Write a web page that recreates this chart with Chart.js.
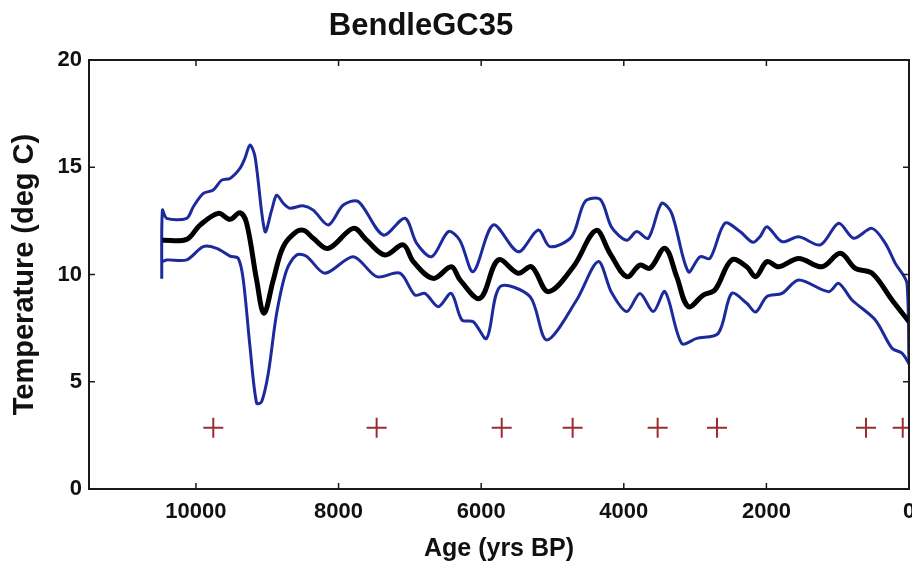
<!DOCTYPE html>
<html>
<head>
<meta charset="utf-8">
<script src="https://cdn.jsdelivr.net/npm/chart.js@4.4.1/dist/chart.umd.min.js"></script>
<style>
  html, body { margin: 0; padding: 0; background: #fff; }
</style>
</head>
<body>
<canvas id="chart" width="912" height="566"></canvas>
<script>
// Mean temperature curve (black)
const meanAge = [10470, 10130, 9944, 9687, 9523, 9383, 9289, 9149, 9046, 8916, 8775, 8588, 8480, 8355, 8144, 7793, 7606, 7349, 7093, 6952, 6672, 6420, 6297, 6017, 5760, 5480, 5292, 5059, 4708, 4390, 4194, 3959, 3773, 3633, 3422, 3258, 3095, 2885, 2721, 2487, 2276, 2150, 1992, 1828, 1547, 1220, 963, 753, 519, 238, 0];
const meanTemp = [11.6, 11.64, 12.3, 12.85, 12.57, 12.88, 12.39, 9.74, 8.19, 9.74, 11.3, 12.0, 12.05, 11.69, 11.22, 12.15, 11.6, 10.91, 11.38, 10.6, 9.82, 10.36, 9.75, 8.89, 10.68, 10.06, 10.36, 9.2, 10.36, 12.05, 10.99, 9.9, 10.44, 10.29, 11.22, 9.9, 8.5, 9.04, 9.28, 10.68, 10.36, 9.9, 10.6, 10.36, 10.75, 10.36, 10.99, 10.29, 10.06, 8.81, 7.8];

// Upper bound (blue)
const upperAge = [10480, 10470, 10411, 10130, 10037, 9897, 9757, 9640, 9523, 9383, 9313, 9242, 9172, 9032, 8938, 8868, 8775, 8682, 8500, 8355, 8144, 7934, 7724, 7373, 7069, 6904, 6694, 6460, 6300, 6111, 5830, 5480, 5199, 5035, 4731, 4544, 4330, 4170, 3959, 3819, 3656, 3469, 3328, 3095, 2931, 2791, 2581, 2370, 2190, 2090, 1992, 1781, 1547, 1243, 986, 776, 519, 332, 192, 28, 0];
const upperTemp = [9.8, 13.0, 12.62, 12.62, 13.16, 13.78, 13.94, 14.4, 14.48, 14.95, 15.42, 16.04, 15.5, 12.0, 13.0, 13.7, 13.32, 13.09, 13.2, 13.0, 12.31, 13.24, 13.4, 11.84, 12.62, 11.45, 10.83, 12.0, 11.6, 10.13, 12.31, 11.06, 12.07, 11.3, 11.76, 13.4, 13.5, 12.2, 11.6, 12.0, 11.69, 13.32, 12.85, 10.13, 10.83, 10.75, 12.39, 12.0, 11.5, 11.76, 12.23, 11.53, 11.76, 11.38, 12.39, 11.69, 12.15, 11.45, 10.52, 9.59, 5.8];

// Lower bound (blue)
const lowerAge = [10470, 10411, 10130, 9897, 9710, 9523, 9406, 9336, 9242, 9149, 9079, 8986, 8868, 8728, 8588, 8450, 8191, 7793, 7466, 7139, 6928, 6788, 6601, 6420, 6270, 6111, 5923, 5736, 5316, 5081, 4661, 4360, 4170, 3959, 3773, 3586, 3422, 3188, 2978, 2674, 2487, 2276, 2150, 1992, 1781, 1547, 1126, 986, 799, 473, 238, 98, 0];
const lowerTemp = [10.6, 10.68, 10.68, 11.3, 11.22, 10.86, 10.75, 9.74, 6.63, 4.0, 4.07, 5.39, 8.19, 10.21, 10.91, 10.85, 10.06, 10.83, 9.9, 10.06, 9.04, 9.12, 8.5, 9.12, 7.88, 7.8, 7.02, 9.43, 8.97, 6.95, 8.81, 10.6, 9.15, 8.27, 9.12, 8.27, 9.2, 6.79, 7.02, 7.26, 9.12, 8.66, 8.25, 8.97, 9.12, 9.74, 9.2, 9.59, 8.81, 7.88, 6.56, 6.33, 5.85];

// Dating control points (red crosses)
const markerAge = [9757, 7466, 5712, 4717, 3525, 2693, 603, 88];
const markerTemp = [2.85, 2.85, 2.85, 2.85, 2.85, 2.85, 2.85, 2.85];

// Tick labels
const xTicks = [0, 2000, 4000, 6000, 8000, 10000];
const yTicks = [0, 5, 10, 15, 20];

const toPoints = (xs, ys) => xs.map((x, i) => ({ x: x, y: ys[i] }));

const FONT = "'Liberation Sans', Arial, Helvetica, sans-serif";
const BLUE = "#1c2a9c";

// Box frame with inward tick marks, like the original figure
const framePlugin = {
  id: "frame",
  afterDatasetsDraw(chart) {
    const { ctx, chartArea: a, scales } = chart;
    ctx.save();
    ctx.strokeStyle = "#1a1a1a";
    ctx.lineWidth = 2;
    ctx.strokeRect(a.left, a.top, a.right - a.left, a.bottom - a.top);
    ctx.lineWidth = 1.5;
    ctx.beginPath();
    xTicks.forEach((v) => {
      const px = scales.x.getPixelForValue(v);
      ctx.moveTo(px, a.bottom);
      ctx.lineTo(px, a.bottom - 6);
      ctx.moveTo(px, a.top);
      ctx.lineTo(px, a.top + 6);
    });
    yTicks.forEach((v) => {
      const py = scales.y.getPixelForValue(v);
      ctx.moveTo(a.left, py);
      ctx.lineTo(a.left + 6, py);
      ctx.moveTo(a.right, py);
      ctx.lineTo(a.right - 6, py);
    });
    ctx.stroke();
    ctx.restore();
  },
};

// Title sits left of the plot centre in the source figure
const titlePlugin = {
  id: "figTitle",
  afterDraw(chart) {
    const ctx = chart.ctx;
    ctx.save();
    ctx.fillStyle = "#111";
    ctx.font = "bold 31px " + FONT;
    ctx.textAlign = "center";
    ctx.textBaseline = "middle";
    ctx.fillText("BendleGC35", 421, 26);
    ctx.restore();
  },
};

const ctx = document.getElementById("chart").getContext("2d");

new Chart(ctx, {
  type: "scatter",
  data: {
    datasets: [
      {
        label: "Mean",
        data: toPoints(meanAge, meanTemp),
        showLine: true,
        borderColor: "#000",
        borderWidth: 5,
        pointRadius: 0,
        tension: 0.35,
        order: 1,
      },
      {
        label: "Upper",
        data: toPoints(upperAge, upperTemp),
        showLine: true,
        borderColor: BLUE,
        borderWidth: 3,
        pointRadius: 0,
        tension: 0.3,
        order: 2,
      },
      {
        label: "Lower",
        data: toPoints(lowerAge, lowerTemp),
        showLine: true,
        borderColor: BLUE,
        borderWidth: 3,
        pointRadius: 0,
        tension: 0.3,
        order: 2,
      },
      {
        label: "Dates",
        data: toPoints(markerAge, markerTemp),
        showLine: false,
        pointStyle: "cross",
        pointRadius: 10,
        pointBorderWidth: 2,
        pointBorderColor: "#9b2d30",
        pointBackgroundColor: "#9b2d30",
        order: 0,
      },
    ],
  },
  options: {
    responsive: false,
    animation: false,
    layout: {
      autoPadding: false,
      padding: { top: 60, right: 3, left: 0, bottom: 0 },
    },
    scales: {
      x: {
        type: "linear",
        reverse: true,
        min: 0,
        max: 11500,
        grid: { display: false, drawTicks: false },
        border: { display: false },
        afterBuildTicks: (scale) => {
          scale.ticks = xTicks.map((v) => ({ value: v }));
        },
        afterFit: (scale) => {
          scale.height = 77;
          scale.paddingLeft = 0;
          scale.paddingRight = 0;
        },
        ticks: {
          color: "#111",
          padding: 10,
          maxRotation: 0,
          font: { family: FONT, size: 22, weight: "bold" },
          callback: (v) => String(v),
        },
        title: {
          display: true,
          text: "Age (yrs BP)",
          color: "#111",
          padding: { top: 0, bottom: 2 },
          font: { family: FONT, size: 25, weight: "bold" },
        },
      },
      y: {
        min: 0,
        max: 20,
        grid: { display: false, drawTicks: false },
        border: { display: false },
        afterBuildTicks: (scale) => {
          scale.ticks = yTicks.map((v) => ({ value: v }));
        },
        afterFit: (scale) => {
          scale.width = 89;
          scale.paddingTop = 0;
          scale.paddingBottom = 0;
        },
        ticks: {
          color: "#111",
          padding: 7,
          font: { family: FONT, size: 22, weight: "bold" },
          callback: (v) => String(v),
        },
        title: {
          display: true,
          text: "Temperature (deg C)",
          color: "#111",
          padding: { top: 8, bottom: 0 },
          font: { family: FONT, size: 29, weight: "bold" },
        },
      },
    },
    plugins: {
      legend: { display: false },
      tooltip: { enabled: false },
    },
  },
  plugins: [framePlugin, titlePlugin],
});
</script>
</body>
</html>
